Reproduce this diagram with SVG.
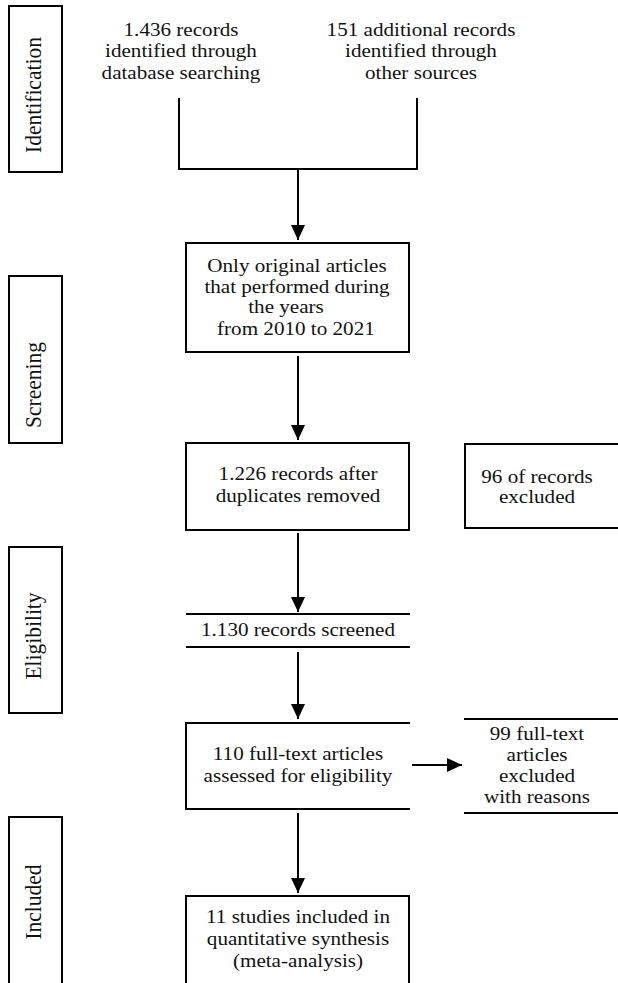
<svg xmlns="http://www.w3.org/2000/svg" width="618" height="983" viewBox="0 0 618 983">
<style>
.b{fill:none;stroke:#000;stroke-width:2}
.c{fill:none;stroke:#000;stroke-width:2}
text{font-family:"Liberation Serif","Times New Roman",serif;font-size:19.2px;fill:#111;text-anchor:middle}
.st{font-size:21.5px}
</style>
<defs>
<marker id="ah" markerUnits="userSpaceOnUse" markerWidth="16" markerHeight="16" refX="15" refY="7" orient="auto">
<path d="M0,0 L15,7 L0,14 Z" fill="#000"/>
</marker>
</defs>
<rect width="618" height="983" fill="#fff"/>
<g id="stage-identification"><rect class="b" x="9" y="6" width="53" height="166"/><text class="st" transform="translate(41,95) scale(1.1,1) rotate(-90)">Identification</text></g>
<g id="stage-screening"><rect class="b" x="9" y="276" width="53" height="167"/><text class="st" transform="translate(41,385) scale(1.1,1) rotate(-90)">Screening</text></g>
<g id="stage-eligibility"><rect class="b" x="9" y="547" width="53" height="166"/><text class="st" transform="translate(41,636) scale(1.1,1) rotate(-90)">Eligibility</text></g>
<g id="stage-included"><rect class="b" x="9" y="817" width="53" height="190"/><text class="st" transform="translate(41,902) scale(1.1,1) rotate(-90)">Included</text></g>
<g id="n-db"><g transform="translate(181,0) scale(1.1,1)"><text x="0" y="36">1.436 records</text><text x="0" y="57">identified through</text><text x="0" y="79">database searching</text></g></g>
<g id="n-other"><g transform="translate(421,0) scale(1.1,1)"><text x="0" y="36">151 additional records</text><text x="0" y="57">identified through</text><text x="0" y="79">other sources</text></g></g>
<g id="n-original"><rect class="b" x="186" y="243" width="223" height="109"/><g transform="translate(297,0) scale(1.1,1)"><text x="0" y="272">Only original articles</text><text x="0" y="293">that performed during</text><text x="-10" y="313">the years</text><text x="-1" y="335">from 2010 to 2021</text></g></g>
<g id="n-dup"><rect class="b" x="186" y="443" width="223" height="87"/><g transform="translate(298,0) scale(1.1,1)"><text x="0" y="480">1.226 records after</text><text x="0" y="502">duplicates removed</text></g></g>
<g id="n-excl96"><path class="b" d="M622,444 H465 V528 H622"/><g transform="translate(537,0) scale(1.1,1)"><text x="0" y="483">96 of records</text><text x="0" y="503">excluded</text></g></g>
<g id="n-screened"><path class="b" d="M186,614 H410 M186,647 H410"/><g transform="translate(298,0) scale(1.1,1)"><text x="0" y="636">1.130 records screened</text></g></g>
<g id="n-fulltext"><path class="b" d="M410,723 H186 V809 H410"/><g transform="translate(298,0) scale(1.1,1)"><text x="0" y="760">110 full-text articles</text><text x="0" y="782">assessed for eligibility</text></g></g>
<g id="n-excl99"><path class="b" d="M464,719 H620 M464,813 H620"/><g transform="translate(537,0) scale(1.1,1)"><text x="0" y="740">99 full-text</text><text x="0" y="761">articles</text><text x="0" y="782">excluded</text><text x="0" y="803">with reasons</text></g></g>
<g id="n-included"><path class="b" d="M186,995 V896 H409 V995"/><g transform="translate(298,0) scale(1.1,1)"><text x="0" y="923">11 studies included in</text><text x="0" y="945">quantitative synthesis</text><text x="0" y="967">(meta-analysis)</text></g></g>
<g id="connectors">
<path class="c" d="M179,98 V169 H417 V98"/>
<path class="c" d="M298,169 V240" marker-end="url(#ah)"/>
<path class="c" d="M298,356 V440" marker-end="url(#ah)"/>
<path class="c" d="M298,533 V612" marker-end="url(#ah)"/>
<path class="c" d="M298,652 V719" marker-end="url(#ah)"/>
<path class="c" d="M412,765 H462" marker-end="url(#ah)"/>
<path class="c" d="M298,813 V893" marker-end="url(#ah)"/>
</g>
</svg>
